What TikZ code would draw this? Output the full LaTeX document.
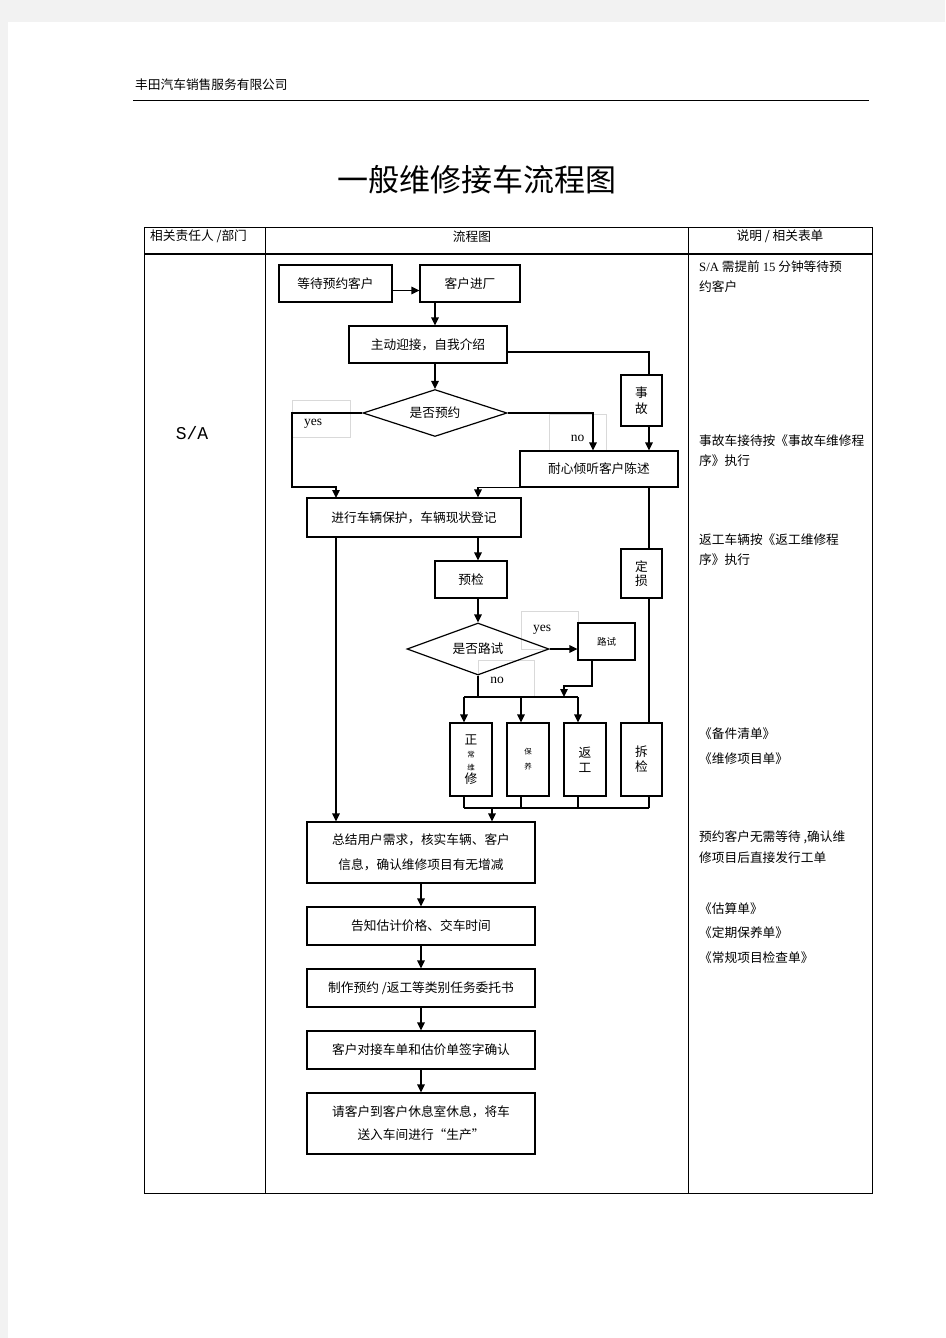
\documentclass[tikz,border=0pt]{standalone}
\usepackage{fontspec}
\setmainfont{Noto Sans CJK SC}
\newfontfamily\serifrm{Liberation Serif}
\newfontfamily\monorm{Liberation Mono}
\newcommand\smallcjk{\fontsize{7.5}{8}\selectfont}
\newcommand\tagtext[2]{\raisebox{-#1}[0pt][0pt]{#2}}
\usetikzlibrary{shapes.geometric,arrows.meta}

\begin{document}
\begin{tikzpicture}[x=1pt, y=-1pt,
        font=\fontsize{12.7}{13}\selectfont,
        box/.style={draw, line width=1.2pt, inner sep=0pt, align=center},
        decision/.style={draw, line width=1.2pt, diamond, aspect=3, inner sep=0pt},
        tag/.style={draw=black!15, line width=0.5pt, inner sep=0pt,
            font=\serifrm\fontsize{13.5}{14}\selectfont},
        flow/.style={line width=1.3pt, -{Triangle[length=8pt,width=7.5pt]}},
        link/.style={line width=1.2pt},
        note/.style={anchor=west, inner sep=0pt}
    ]
    \useasboundingbox (0,0) rectangle (945,1338);
    \fill[black!5] (0,0) rectangle (945,22);
    \fill[black!5] (0,0) rectangle (8,1338);

    % page head and title
    \node[anchor=west, inner sep=0pt] (company) at (135,85) {丰田汽车销售服务有限公司};
    \draw[line width=0.8pt] (133,100) -- (869,100);
    \node (title) at (477,180) {\fontsize{31}{33}\selectfont 一般维修接车流程图};

    % table frame
    \draw[line width=0.9pt] (144,227) rectangle (872,1193);
    \draw[line width=0.9pt] (265,227) -- (265,1193);
    \draw[line width=0.9pt] (688,227) -- (688,1193);
    \draw[line width=1.5pt] (144,254) -- (872,254);
    \node[anchor=west, inner sep=0pt] (hdrole) at (150,236) {相关责任人 /部门};
    \node (hdflow) at (472,237) {流程图};
    \node (hdnote) at (780,236) {说明 / 相关表单};
    \node (role) at (192,433) {\monorm\fontsize{18}{20}\selectfont S/A};

    % labels on the branches
    \node[tag, minimum width=58pt, minimum height=37pt] (yesA) at (321,418.5) {\tagtext{6.5pt}{yes}\hspace*{16pt}};
    \node[tag, minimum width=57pt, minimum height=37pt] (noA) at (577.5,432.5) {\tagtext{8.5pt}{no}};
    \node[tag, minimum width=57pt, minimum height=38pt] (yesB) at (549.5,630) {\tagtext{1pt}{yes}\hspace*{15pt}};
    \node[tag, minimum width=56pt, minimum height=37pt] (noB) at (506,678.5) {\tagtext{4.5pt}{no}\hspace*{18pt}};

    % flow chart
    \node[box, minimum width=113pt, minimum height=37pt] (wait) at (335.5,283.5) {等待预约客户};
    \node[box, minimum width=100pt, minimum height=37pt] (enter) at (470,283.5) {客户进厂};
    \node[box, minimum width=158pt, minimum height=37pt] (greet) at (428,344.5) {主动迎接，自我介绍};
    \node[decision, minimum width=144pt, minimum height=47pt] (appt) at (435,413) {是否预约};
    \node[box, minimum width=41pt, minimum height=51pt, font=\fontsize{12.7}{16}\selectfont]
        (accident) at (641.5,400.5) {事\\故};
    \node[box, minimum width=158pt, minimum height=36pt] (listen) at (599,469) {耐心倾听客户陈述};
    \node[box, minimum width=214pt, minimum height=39pt] (protect) at (414,517.5) {进行车辆保护，车辆现状登记};
    \node[box, minimum width=72pt, minimum height=37pt] (precheck) at (471,579.5) {预检};
    \node[box, minimum width=41pt, minimum height=49pt, font=\fontsize{12.7}{14}\selectfont]
        (assess) at (641.5,573.5) {定\\损};
    \node[decision, minimum width=142pt, minimum height=52pt] (roadq) at (478,649) {是否路试};
    \node[box, minimum width=57pt, minimum height=37pt, font=\fontsize{9.5}{10}\selectfont]
        (roadtest) at (606.5,641.5) {路试};
    \node[box, minimum width=42pt, minimum height=73pt]
        (normal) at (471,759.5) {正\\{\smallcjk 常}\\{\smallcjk 维}\\修};
    \node[box, minimum width=42pt, minimum height=73pt, font=\fontsize{7.5}{15}\selectfont]
        (service) at (528,759.5) {保\\养};
    \node[box, minimum width=42pt, minimum height=73pt, font=\fontsize{12.7}{15}\selectfont]
        (rework) at (585,759.5) {返\\工};
    \node[box, minimum width=41pt, minimum height=73pt, font=\fontsize{12.7}{15}\selectfont]
        (inspect) at (641.5,759.5) {拆\\检};
    \node[box, minimum width=228pt, minimum height=61pt, font=\fontsize{12.7}{25}\selectfont]
        (summary) at (421,852.5) {总结用户需求，核实车辆、客户\\信息，确认维修项目有无增减};
    \node[box, minimum width=228pt, minimum height=38pt] (inform) at (421,926) {告知估计价格、交车时间};
    \node[box, minimum width=228pt, minimum height=38pt] (make) at (421,988) {制作预约 /返工等类别任务委托书};
    \node[box, minimum width=228pt, minimum height=38pt] (sign) at (421,1050) {客户对接车单和估价单签字确认};
    \node[box, minimum width=228pt, minimum height=61pt, font=\fontsize{12.7}{23}\selectfont]
        (rest) at (421,1123.5) {请客户到客户休息室休息，将车\\送入车间进行“生产”};

    \coordinate (rail) at (649,352);
    \coordinate (yescol) at (292,487);
    \coordinate (lc) at (336,498);
    \coordinate (bus) at (478,697);
    \coordinate (merge) at (564,697);
    \coordinate (collect) at (492,808);

    \draw[flow] ([yshift=-7pt]wait.east) -- ([yshift=-7pt]enter.west);
    \draw[flow] (appt |- enter.south) -- (appt |- greet.north);
    \draw[flow] (appt |- greet.south) -- (appt.north);
    \draw[link] (greet.east |- rail) -| (rail |- accident.north);
    \draw[flow] (rail |- accident.south) -- (rail |- listen.north);
    \draw[link] (rail |- listen.south) -- (rail |- assess.north);
    \draw[link] (rail |- assess.south) -- (rail |- inspect.north);
    \draw[flow] (appt.east) -| ([xshift=-6pt]listen.north);
    \draw[flow] (appt.west) -| (yescol) -| (lc);
    \draw[flow] (listen.south west) -| (roadq |- protect.north);
    \draw[flow] (lc |- protect.south) -- (lc |- summary.north);
    \draw[flow] (roadq |- protect.south) -- (roadq |- precheck.north);
    \draw[flow] (roadq |- precheck.south) -- (roadq.north);
    \draw[flow] (roadq.east) -- (roadq.east -| roadtest.west);
    \draw[flow] ([xshift=-14.5pt]roadtest.south) |- ([yshift=11pt]merge) -- (merge);
    \draw[link] (roadq.south) -- (bus);

    \foreach \b in {normal,service,rework} {
        \coordinate (top-\b) at ([xshift=-7pt]\b.north);
        \coordinate (foot-\b) at ([xshift=-7pt]\b.south);
        \draw[flow] (top-\b |- bus) -- (top-\b);
        \draw[link] (foot-\b) -- (foot-\b |- collect);
    }
    \draw[link] (top-normal |- bus) -- (top-rework |- bus);
    \draw[link] (rail |- inspect.south) -- (rail |- collect);
    \draw[link] (foot-normal |- collect) -- (rail |- collect);
    \draw[flow] (collect) -- (collect |- summary.north);

    \foreach \a/\b in {summary/inform,inform/make,make/sign,sign/rest}
        \draw[flow] (\a) -- (\b);

    % notes column
    \node[note] (note267) at (699,267) {{\serifrm S/A} 需提前 {\serifrm 15} 分钟等待预};
    \foreach \y/\t in {287/约客户, 441/事故车接待按《事故车维修程, 461/序》执行,
            540/返工车辆按《返工维修程, 560/序》执行, 734/《备件清单》, 759/《维修项目单》,
            837/{预约客户无需等待 ,确认维}, 858/修项目后直接发行工单,
            909/《估算单》, 933/《定期保养单》, 958/《常规项目检查单》}
        \node[note] (note\y) at (699,\y) {\t};
\end{tikzpicture}
\end{document}
